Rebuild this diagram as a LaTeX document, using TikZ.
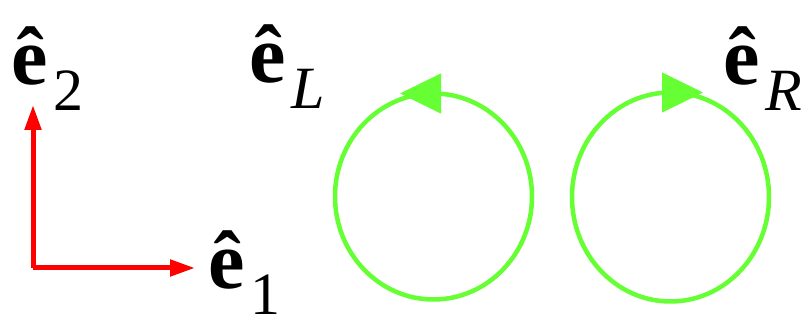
\documentclass[tikz,border=0pt]{standalone}
\usepackage{fontspec}
\setmainfont{Liberation Serif}
\usepackage{xcolor}
\usetikzlibrary{arrows.meta, shapes.geometric}

\definecolor{ringgreen}{RGB}{102,255,51}
\newcommand{\unitvec}[1]{{\fontsize{82}{82}\selectfont\bfseries\^{e}}\hspace{6pt}\raisebox{-26pt}{\fontsize{60}{60}\selectfont #1}}

\begin{document}
\begin{tikzpicture}[x=1pt, y=1pt,
    axis/.style={red, line width=5pt, -{Triangle[length=25pt, width=16pt]}},
    ring/.style={ellipse, draw=ringgreen, line width=4.5pt, inner sep=0pt, outer sep=0pt, minimum width=197pt},
    ringarrow/.style={ringgreen, line width=1pt, -{Triangle[length=41pt, width=40pt]}},
    label/.style={inner sep=0pt, anchor=base west}]
        \useasboundingbox (0,0) rectangle (811,320);

        % basis vectors
        \coordinate (o) at (33,52);
        \coordinate (t2) at (33,215);
        \coordinate (t1) at (195,52);
        \draw[axis] (o) -- (t2);
        \draw[axis] (o) -- (t1);
        \node[label] (e2) at (11,235) {\unitvec{2}};
        \node[label] (e1) at (208,31) {\unitvec{1}};

        % circular polarisations
        \node[ring, minimum height=206pt] (lring) at (433.5,123.5) {};
        \node[ring, minimum height=209pt] (rring) at (670.5,123) {};
        \draw[ringarrow] ([xshift=8.5pt]lring.north) -- ([xshift=-33.5pt]lring.north);
        \draw[ringarrow] ([xshift=-8.5pt]rring.north) -- ([xshift=32.5pt]rring.north);
        \node[label] (eL) at (249,237) {\unitvec{\itshape L}};
        \node[label] (eR) at (723,235) {\unitvec{\itshape R}};
\end{tikzpicture}
\end{document}
